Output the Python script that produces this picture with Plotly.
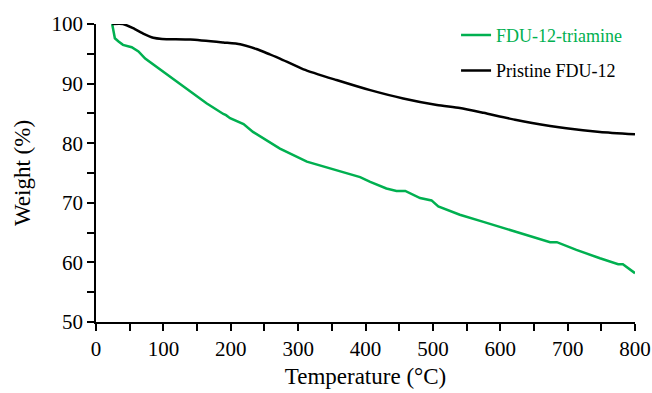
import plotly.graph_objects as go

# FDU-12-triamine (green)
tri_temp = [24, 26, 28, 33, 40, 53, 63, 73, 90, 115, 125, 140, 164, 189, 193, 199,
            219, 233, 273, 313, 347, 377, 392, 407, 431, 446, 459, 481, 498, 508,
            540, 575, 599, 629, 674, 684, 713, 748, 775, 782, 800]
tri_weight = [100, 98.8, 97.6, 97.1, 96.5, 96.1, 95.4, 94.2, 92.8, 90.6, 89.9, 88.6,
              86.7, 84.9, 84.7, 84.2, 83.2, 81.9, 79.1, 76.9, 75.8, 74.8, 74.3, 73.5,
              72.4, 72.0, 72.0, 70.8, 70.4, 69.4, 68.0, 66.8, 66.0, 65.0, 63.4, 63.4,
              62.1, 60.7, 59.7, 59.7, 58.2]

# Pristine FDU-12 (black)
pri_temp = [24, 40, 55, 70, 85, 98, 140, 189, 214, 238, 258, 273, 308, 357, 407,
            456, 506, 540, 575, 624, 674, 698, 748, 800]
pri_weight = [100, 100, 99.3, 98.4, 97.7, 97.5, 97.4, 96.9, 96.6, 95.8, 94.9, 94.2,
              92.4, 90.6, 88.9, 87.5, 86.4, 85.9, 85.1, 83.9, 82.9, 82.5, 81.9, 81.5]

GREEN = "#00B050"
FONT = "Liberation Serif"

fig = go.Figure()
fig.add_trace(go.Scatter(
    x=tri_temp, y=tri_weight, mode="lines",
    line=dict(color=GREEN, width=2.5),
    name=f"<span style='color:{GREEN}'>FDU-12-triamine</span>",
    legendgroup="a",
))
fig.add_trace(go.Scatter(
    x=pri_temp, y=pri_weight, mode="lines",
    line=dict(color="black", width=2.5, shape="spline", smoothing=0.6),
    name="Pristine FDU-12",
    legendgroup="b",
))

axis_common = dict(
    showline=True, linecolor="black", linewidth=1.5,
    ticks="outside", ticklen=7, tickwidth=1.5, tickcolor="black",
    showgrid=False, zeroline=False, mirror=False, automargin=False,
    tickfont=dict(family=FONT, size=21, color="black"),
)

fig.update_xaxes(
    range=[0, 800], dtick=100, tick0=0,
    title=dict(text="Temperature (°C)", font=dict(family=FONT, size=23, color="black"), standoff=8),
    minor=dict(dtick=50, ticks="outside", ticklen=7, tickwidth=1.5, tickcolor="black"),
    **axis_common,
)
fig.update_yaxes(
    range=[50, 100], dtick=10, tick0=50,
    title=dict(text="Weight (%)", font=dict(family=FONT, size=23, color="black"), standoff=14),
    minor=dict(dtick=5, ticks="outside", ticklen=7, tickwidth=1.5, tickcolor="black"),
    **axis_common,
)

fig.update_layout(
    width=652, height=393,
    margin=dict(l=96, r=17, t=24, b=71),
    paper_bgcolor="white", plot_bgcolor="white",
    font=dict(family=FONT, color="black"),
    legend=dict(
        x=0.668, y=1.024, xanchor="left", yanchor="top",
        font=dict(family=FONT, size=18, color="black"),
        bgcolor="rgba(0,0,0,0)", tracegroupgap=9,
        traceorder="grouped",
    ),
    showlegend=True,
)

# remove the default page margin so the figure fills the 652x393 window exactly
fig.write_html(
    "out.html",
    config={"displayModeBar": False},
    post_script="document.body.style.margin='0';document.body.style.overflow='hidden';",
)
